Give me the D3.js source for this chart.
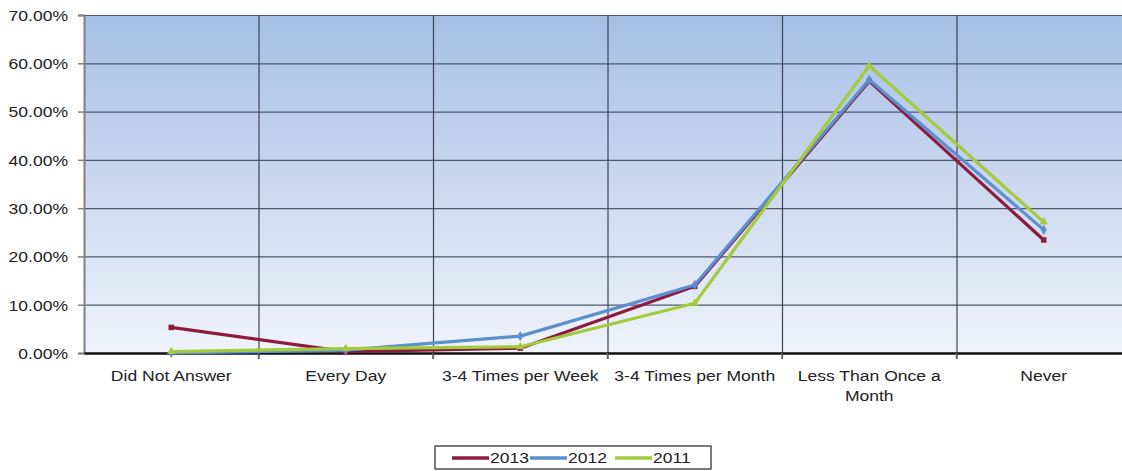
<!DOCTYPE html>
<meta charset="utf-8">
<head>
  <title>Frequency by year</title>
</head>

<style>
  body { margin: 0; background: #fff; }
  text { font-family: "Liberation Sans", Arial, sans-serif; fill: #222; }
</style>

<body>

  <div id="my_dataviz"></div>

  <script src="https://d3js.org/d3.v7.min.js"></script>

	<script>

	// categories shown on the X axis
	var categories = ["Did Not Answer", "Every Day", "3-4 Times per Week", "3-4 Times per Month", "Less Than Once a Month", "Never"]

	// one array per year, in percent
	var series2013 = [5.3, 0.3, 1.0, 13.8, 56.3, 23.4]
	var series2012 = [0.0, 0.6, 3.5, 14.1, 56.6, 25.5]
	var series2011 = [0.3, 0.9, 1.3, 10.3, 59.5, 27.1]

	var yTicks = [0, 10, 20, 30, 40, 50, 60, 70]

	var seriesNames = ["2013", "2012", "2011"]
	var seriesColors = ["#8c1c3e", "#5b8fd0", "#a3cb3e"]

	// text in the picture is a bit wider than plain Arial
	var stretch = 1.17

	// set the dimensions and margins of the graph
	var margin = {top: 15, right: 0, bottom: 118, left: 84},
		width = 1047,
		height = 338;

	var svg = d3.select("#my_dataviz")
	  .append("svg")
		.attr("width", 1122)
		.attr("height", 471)

	var g = svg.append("g")
		.attr("transform", "translate(" + margin.left + "," + margin.top + ")");

	// background gradient of the plot area
	var grad = svg.append("defs").append("linearGradient")
		.attr("id", "bg").attr("x1", 0).attr("y1", 0).attr("x2", 0).attr("y2", 1)
	grad.append("stop").attr("offset", "0%").attr("stop-color", "#a6bfe6")
	grad.append("stop").attr("offset", "50%").attr("stop-color", "#cbd8ef")
	grad.append("stop").attr("offset", "100%").attr("stop-color", "#f0f3fa")

	g.append("rect")
		.attr("width", width).attr("height", height)
		.attr("fill", "url(#bg)")

	// scales
	var x = d3.scaleBand()
		.domain(categories)
		.range([0, width])
		.padding(0)

	var y = d3.scaleLinear()
		.domain([0, 70])
		.range([height, 0])

	// horizontal gridlines
	g.append("g")
		.selectAll("line")
		.data(yTicks.slice(1))
		.enter().append("line")
		  .attr("x1", 0).attr("x2", width)
		  .attr("y1", function(d) { return y(d) + 0.5 })
		  .attr("y2", function(d) { return y(d) + 0.5 })
		  .attr("stroke", "#4d5a6e").attr("stroke-width", 1.2)

	// vertical gridlines between categories
	g.append("g")
		.selectAll("line")
		.data(categories.slice(1))
		.enter().append("line")
		  .attr("x1", function(d) { return x(d) + 0.5 })
		  .attr("x2", function(d) { return x(d) + 0.5 })
		  .attr("y1", 0).attr("y2", height + 6)
		  .attr("stroke", "#3c4452").attr("stroke-width", 1.2)

	// Y axis
	var yAxis = g.append("g")
		.call(d3.axisLeft(y).tickValues(yTicks).tickSize(6)
		  .tickFormat(function(d) { return d3.format(".2f")(d) + "%" }))
	yAxis.select(".domain").attr("stroke", "#808080").attr("stroke-width", 2)
	yAxis.selectAll(".tick line").attr("stroke", "#808080").attr("stroke-width", 1.5)
	yAxis.selectAll(".tick text")
		.attr("x", -16 / stretch)
		.attr("dy", "0.36em")
		.attr("transform", "scale(" + stretch + ",1)")
		.style("font-size", "15px").style("font-family", "Liberation Sans, Arial, sans-serif").attr("fill", "#2a2a2a")

	// X axis
	var xAxis = g.append("g")
		.attr("transform", "translate(0," + height + ")")
		.call(d3.axisBottom(x).tickSize(0).tickPadding(0))
	xAxis.select(".domain").attr("stroke", "#111").attr("stroke-width", 2.5)
	xAxis.selectAll(".tick text").remove()

	// small ticks at category boundaries
	xAxis.selectAll(".bnd")
		.data(categories.slice(1))
		.enter().append("line")
		  .attr("x1", function(d) { return x(d) }).attr("x2", function(d) { return x(d) })
		  .attr("y1", 0).attr("y2", 6)
		  .attr("stroke", "#666").attr("stroke-width", 1.5)

	// category labels, wrapped when wider than the band
	var labels = xAxis.selectAll(".lab")
		.data(categories)
		.enter().append("text")
		  .attr("transform", function(d) { return "translate(" + (x(d) + x.bandwidth() / 2) + ",28) scale(" + stretch + ",1)" })
		  .attr("text-anchor", "middle")
		  .style("font-size", "15px")
		  .attr("fill", "#2a2a2a")

	labels.each(function(d) {
		var el = d3.select(this)
		var words = d.split(" ")
		var line = []
		var ts = el.append("tspan").attr("x", 0).attr("dy", 0)
		words.forEach(function(w) {
			line.push(w)
			ts.text(line.join(" "))
			if (ts.node().getComputedTextLength() * stretch > 172 && line.length > 1) {
				line.pop()
				ts.text(line.join(" "))
				line = [w]
				ts = el.append("tspan").attr("x", 0).attr("dy", "1.35em").text(w)
			}
		})
	})

	// lines
	var allSeries = [series2013, series2012, series2011]
	var symbols = [d3.symbolSquare, d3.symbolDiamond, d3.symbolTriangle]

	var line = d3.line()
		.x(function(d, i) { return x(categories[i]) + x.bandwidth() / 2 })
		.y(function(d) { return y(d) })

	allSeries.forEach(function(s, k) {
		g.append("path")
		  .datum(s)
		  .attr("fill", "none")
		  .attr("stroke", seriesColors[k])
		  .attr("stroke-width", 3.2)
		  .attr("stroke-linejoin", "round")
		  .attr("d", line)
		g.append("g")
		  .selectAll("path")
		  .data(s)
		  .enter().append("path")
			.attr("d", d3.symbol().type(symbols[k]).size(30))
			.attr("transform", function(d, i) { return "translate(" + (x(categories[i]) + x.bandwidth() / 2) + "," + y(d) + ")" })
			.attr("fill", seriesColors[k])
	})

	// legend
	var legend = svg.append("g").attr("transform", "translate(435,446)")
	legend.append("rect")
		.attr("width", 276).attr("height", 23)
		.attr("fill", "#fff").attr("stroke", "#222").attr("stroke-width", 1.2)

	var legX = [17, 95, 180]
	var item = legend.selectAll(".item")
		.data(seriesNames)
		.enter().append("g")
		  .attr("transform", function(d, i) { return "translate(" + legX[i] + ",0)" })
	item.append("line")
		.attr("x1", 0).attr("x2", 37).attr("y1", 12).attr("y2", 12)
		.attr("stroke", function(d, i) { return seriesColors[i] })
		.attr("stroke-width", 3.5)
	item.append("text")
		.attr("transform", "translate(38,17) scale(" + stretch + ",1)")
		.style("font-size", "15px")
		.attr("fill", "#2a2a2a")
		.text(function(d) { return d })

	</script>
</body>
</html>
